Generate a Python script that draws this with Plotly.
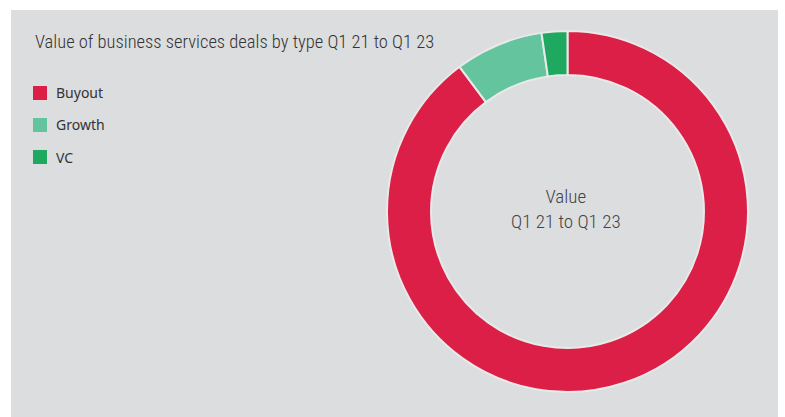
import plotly.graph_objects as go

labels = ["Buyout", "Growth", "VC"]
values = [89.8, 7.9, 2.3]
colors = ["#dc1f46", "#63c49e", "#1fa85f"]
title_text = "Value of business services deals by type Q1 21 to Q1 23"
center_text = "Value<br>Q1 21 to Q1 23"

W, H = 785, 417
L, R, T, B = 11, 7, 10, 0
PW, PH = W - L - R, H - T - B

def px(x):
    return (x - L) / PW

def py(y):
    return (H - B - y) / PH

fig = go.Figure()
fig.add_trace(go.Pie(
    labels=labels, values=values, sort=False, direction="clockwise", rotation=0,
    hole=0.756, textinfo="none", hoverinfo="label+percent",
    marker=dict(colors=colors, line=dict(color="#e9e9ea", width=2)),
    domain=dict(x=[px(387), px(748)], y=[py(392), py(31)]),
    showlegend=False,
))

shapes = [dict(type="rect", xref="paper", yref="paper", x0=0, x1=1, y0=0, y1=1,
               fillcolor="#dcdddf", line=dict(width=0), layer="below")]
annotations = [
    dict(text=title_text, xref="paper", yref="paper", x=px(33), y=py(42),
         xanchor="left", yanchor="middle", showarrow=False,
         font=dict(family="Roboto Condensed", size=18.5, color="#333333", weight=300)),
    dict(text=center_text, xref="paper", yref="paper", x=px(566), y=py(209),
         xanchor="center", yanchor="middle", showarrow=False,
         font=dict(family="Roboto Condensed", size=19, color="#444444", weight=300)),
]
for i, (lab, col) in enumerate(zip(labels, colors)):
    yc = 93 + 32 * i
    shapes.append(dict(type="rect", xref="paper", yref="paper",
                       x0=px(33), x1=px(47), y0=py(yc + 7), y1=py(yc - 7),
                       fillcolor=col, line=dict(width=0)))
    annotations.append(dict(text=lab, xref="paper", yref="paper", x=px(54), y=py(yc),
                            xanchor="left", yanchor="middle", showarrow=False,
                            font=dict(family="Noto Sans", size=14, color="#333333")))

fig.update_layout(
    width=W, height=H, margin=dict(l=L, r=R, t=T, b=B),
    paper_bgcolor="white", plot_bgcolor="white",
    shapes=shapes, annotations=annotations,
)
fig.write_html("out.html")
